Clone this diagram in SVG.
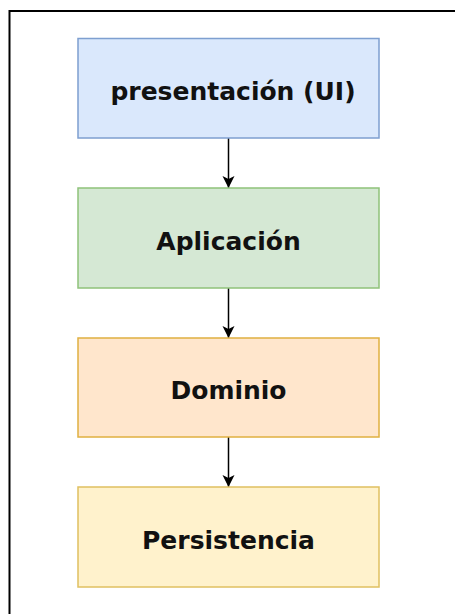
<svg xmlns="http://www.w3.org/2000/svg" width="455" height="614" viewBox="0 0 455 614">
<style>
.lbl{font-family:"DejaVu Sans",Verdana,sans-serif;font-weight:bold;font-size:25px;fill:#111;text-anchor:middle}
.edge{stroke:#000;stroke-width:1.5;fill:none}
</style>
<defs>
<marker id="arr" markerUnits="userSpaceOnUse" markerWidth="14" markerHeight="14" refX="12" refY="6" orient="auto" viewBox="0 0 14 12">
<path d="M0,0 L12,6 L0,12 L3,6 Z" fill="#000"/>
</marker>
</defs>
<rect x="0" y="0" width="455" height="614" fill="#fff"/>
<rect x="9.5" y="11" width="470" height="640" fill="none" stroke="#000" stroke-width="2"/>
<g id="connectors">
<line class="edge" x1="228.5" y1="138" x2="228.5" y2="188" marker-end="url(#arr)"/>
<line class="edge" x1="228.5" y1="288" x2="228.5" y2="338" marker-end="url(#arr)"/>
<line class="edge" x1="228.5" y1="437" x2="228.5" y2="487" marker-end="url(#arr)"/>
</g>
<g id="presentacion">
<rect x="78" y="38.5" width="301" height="99.5" fill="#dae8fc" stroke="#7e9fd0" stroke-width="1.5"/>
<text class="lbl" x="233" y="100">presentación (UI)</text>
</g>
<g id="aplicacion">
<rect x="78" y="188" width="301" height="100" fill="#d5e8d4" stroke="#8fc27a" stroke-width="1.5"/>
<text class="lbl" x="228.5" y="250">Aplicación</text>
</g>
<g id="dominio">
<rect x="78" y="338" width="301" height="99" fill="#ffe6cc" stroke="#e0b040" stroke-width="1.5"/>
<text class="lbl" x="228.5" y="399">Dominio</text>
</g>
<g id="persistencia">
<rect x="78" y="487" width="301" height="100" fill="#fff2cc" stroke="#e0c060" stroke-width="1.5"/>
<text class="lbl" x="228.5" y="549">Persistencia</text>
</g>
</svg>
